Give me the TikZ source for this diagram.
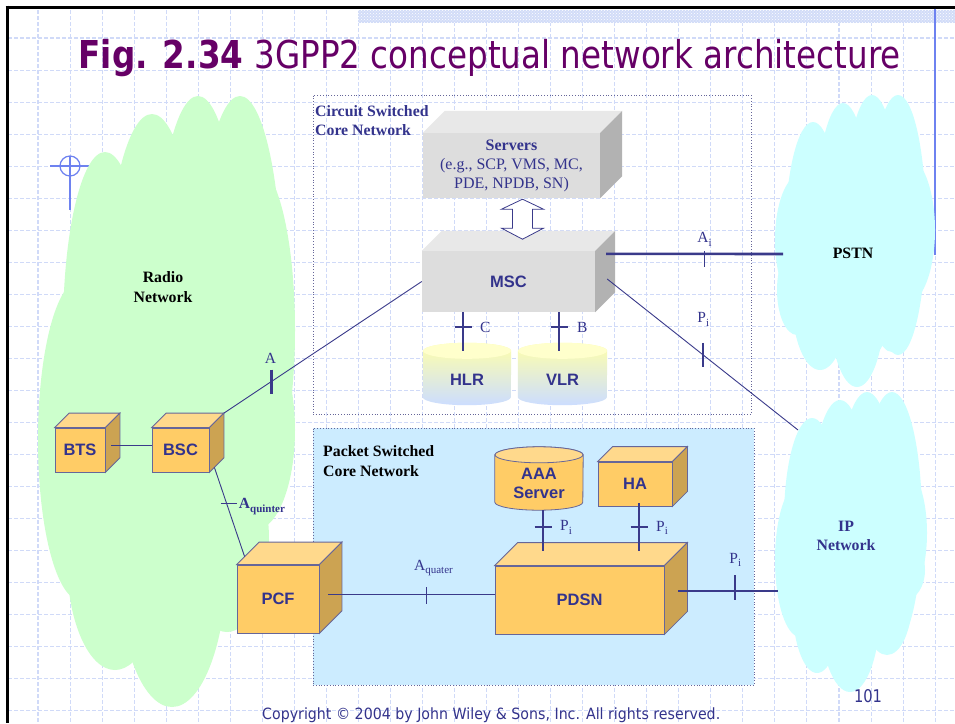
\documentclass[tikz,border=0pt]{standalone}
\usepackage{fontspec}
\usepackage{graphicx}
\setmainfont{Liberation Serif}
\newfontfamily\arialf{Liberation Sans}
\newfontfamily\tahf{DejaVu Sans}
\usetikzlibrary{calc,patterns}
\definecolor{navy}{RGB}{51,51,140}
\definecolor{linec}{RGB}{58,58,138}
\definecolor{gridc}{RGB}{208,218,248}
\definecolor{titlec}{RGB}{102,0,102}
\definecolor{greenc}{RGB}{204,255,204}
\definecolor{cyanc}{RGB}{204,255,255}
\definecolor{pktc}{RGB}{204,236,255}
\definecolor{ofront}{RGB}{255,204,102}
\definecolor{otop}{RGB}{255,217,140}
\definecolor{oside}{RGB}{204,163,82}
\definecolor{oedge}{RGB}{102,102,153}
\definecolor{gfront}{RGB}{221,221,221}
\definecolor{gtop}{RGB}{232,232,232}
\definecolor{gside}{RGB}{178,178,178}
\definecolor{cyltop}{RGB}{255,255,170}
\definecolor{cylbot}{RGB}{204,221,255}
\definecolor{cylface}{RGB}{255,255,204}
\definecolor{blueline}{RGB}{110,130,240}
\definecolor{stripc}{RGB}{210,220,248}
\definecolor{dotc}{RGB}{102,102,153}
\newcommand{\lowsub}[1]{\raisebox{-3.5pt}{\fontsize{11}{12}\selectfont #1}}
\newcommand{\cubesides}[5]{%
  \path[#5,fill=#3] (#1.north west) -- ++(#2,-#2) -- ($(#1.north east)+(#2,-#2)$) -- (#1.north east) -- cycle;
  \path[#5,fill=#4] (#1.north east) -- ++(#2,-#2) -- ($(#1.south east)+(#2,-#2)$) -- (#1.south east) -- cycle;}
\newcommand{\cylbody}[5]{%
  \path[#4] (#1.north west) -- ($(#1.south west)+(0,-#3)$) arc[start angle=180,end angle=0,x radius=#2,y radius=#3] -- (#1.north east) arc[start angle=0,end angle=-180,x radius=#2,y radius=#3] -- cycle;
  \path[#5] (#1.north) ellipse[x radius=#2,y radius=#3];}
\begin{document}
\begin{tikzpicture}[x=1pt,y=-1pt,
  gridline/.style={draw=gridc, line width=1.05pt, dash pattern=on 4pt off 2pt},
  obox/.style={rectangle, draw=oedge, line width=0.8pt, fill=ofront, inner sep=0pt, text=navy, font=\arialf\bfseries\fontsize{16.5}{19}\selectfont},
  gbox/.style={rectangle, fill=gfront, inner sep=0pt, text=navy},
  cylbox/.style={rectangle, inner sep=0pt},
  cyltext/.style={inner sep=0pt, text=navy, align=center, font=\arialf\bfseries\fontsize{16.5}{19}\selectfont},
  conn/.style={draw=linec, line width=0.9pt},
  thickconn/.style={draw=linec, line width=2.6pt},
  tickthin/.style={draw=linec, line width=1pt},
  tickthick/.style={draw=linec, line width=2.4pt},
  lbl/.style={inner sep=0pt, text=navy, font=\fontsize{15.5}{18}\selectfont},
  netlbl/.style={inner sep=0pt, align=center, font=\bfseries\fontsize{15.8}{19.5}\selectfont},
  corebox/.style={rectangle, draw=dotc, dotted, line width=0.8pt, inner sep=0pt}
]
\useasboundingbox (0,0) rectangle (955,723);
\fill[white] (0,0) rectangle (955,723);
% grid
\foreach \i in {0,...,28} {\draw[gridline] ({38+32.04*\i},10) -- ({38+32.04*\i},723);}
\foreach \j in {0,...,21} {\draw[gridline] (8,{38+32.04*\j}) -- (955,{38+32.04*\j});}
% top strip and frame
\fill[stripc] (358,10) rectangle (955,23);
\fill[pattern=crosshatch dots, pattern color=white] (358,10) rectangle (955,23);
\draw[black, line width=3pt] (5.5,7) -- (955,7);
\draw[black, line width=3pt] (7,5.5) -- (7,723);
\draw[blueline, line width=2pt] (935,8.5) -- (935,255);
% crosshair
\draw[blueline, line width=1.2pt] (70,166) circle[radius=10];
\draw[blueline, line width=1.2pt] (50,166) -- (123,166) (70,156) -- (70,210);
% radio network cloud
\begin{scope}[fill=greenc]
\fill (105,330) ellipse[x radius=42, y radius=178];
\fill (152,300) ellipse[x radius=45, y radius=186];
\fill (198,290) ellipse[x radius=42, y radius=194];
\fill (240,290) ellipse[x radius=42, y radius=194];
\fill (255,330) ellipse[x radius=40, y radius=165];
\fill (80,440) ellipse[x radius=42, y radius=160];
\fill (115,560) ellipse[x radius=48, y radius=110];
\fill (172,560) ellipse[x radius=55, y radius=147];
\fill (227,540) ellipse[x radius=42, y radius=92];
\fill (255,430) ellipse[x radius=40, y radius=100];
\fill (75,210) rectangle (260,600);
\end{scope}
% PSTN cloud
\begin{scope}[fill=cyanc]
\fill (813,240) ellipse[x radius=28, y radius=118];
\fill (843,230) ellipse[x radius=28, y radius=127];
\fill (872,225) ellipse[x radius=28, y radius=130];
\fill (898,225) ellipse[x radius=28, y radius=130];
\fill (905,230) ellipse[x radius=30, y radius=75];
\fill (800,240) ellipse[x radius=25, y radius=65];
\fill (797,290) ellipse[x radius=20, y radius=45];
\fill (820,300) ellipse[x radius=28, y radius=70];
\fill (857,300) ellipse[x radius=28, y radius=87];
\fill (892,290) ellipse[x radius=22, y radius=62];
\fill (905,250) ellipse[x radius=25, y radius=50];
\fill (795,180) rectangle (912,295);
\end{scope}
% IP cloud
\begin{scope}[fill=cyanc]
\fill (812,520) ellipse[x radius=28, y radius=102];
\fill (840,520) ellipse[x radius=30, y radius=120];
\fill (867,520) ellipse[x radius=30, y radius=128];
\fill (892,520) ellipse[x radius=30, y radius=128];
\fill (900,533) ellipse[x radius=27, y radius=70];
\fill (800,560) ellipse[x radius=25, y radius=77];
\fill (817,600) ellipse[x radius=25, y radius=73];
\fill (850,610) ellipse[x radius=30, y radius=82];
\fill (887,600) ellipse[x radius=25, y radius=55];
\fill (905,570) ellipse[x radius=20, y radius=30];
\fill (795,450) rectangle (915,595);
\end{scope}
% core network areas
\node[corebox, minimum width=438, minimum height=319] (csbox) at (532,254.5) {};
\node[corebox, fill=pktc, minimum width=441, minimum height=257] (psbox) at (533.5,556.5) {};
\node[anchor=north west, inner sep=0pt, align=left, text=navy, font=\bfseries\fontsize{15.8}{19}\selectfont] (cslbl) at (315,105) {Circuit Switched\\Core Network};
\node[anchor=north west, inner sep=0pt, align=left, font=\bfseries\fontsize{15.8}{20}\selectfont] (pslbl) at (323,445) {Packet Switched\\Core Network};
% network labels
\node[netlbl] (radio) at (163,287) {Radio\\Network};
\node[netlbl] (pstn) at (853,253) {PSTN};
\node[netlbl, text=navy] (ipnet) at (846,536) {IP\\Network};
% servers and MSC
\node[gbox, minimum width=177, minimum height=65, align=center, font=\fontsize{16}{19}\selectfont] (servers) at (511.5,165.5) {\textbf{Servers}\\(e.g., SCP, VMS, MC,\\PDE, NPDB, SN)};
\cubesides{servers}{22}{gtop}{gside}{draw=none}
\node[gbox, minimum width=173, minimum height=61, font=\arialf\bfseries\fontsize{16.5}{19}\selectfont] (msc) at (508.5,281.5) {MSC};
\cubesides{msc}{20}{gtop}{gside}{draw=none}
\coordinate (arrtop) at ($(servers.south)+(11,1)$);
\draw[linec, fill=white, line width=0.8pt] (arrtop) -- ++(21,10) -- ++(-11,0) -- ++(0,19) -- ++(11,0) -- ++(-21,11) -- ++(-21,-11) -- ++(11,0) -- ++(0,-19) -- ++(-11,0) -- cycle;
% HLR / VLR
\node[cylbox, minimum width=88, minimum height=54] (hlr) at (467,378) {};
\cylbody{hlr}{44}{8}{top color=cyltop, bottom color=cylbot}{fill=cylface}
\node[cyltext] (hlrt) at ($(hlr.center)+(0,2)$) {HLR};
\node[cylbox, minimum width=89, minimum height=54] (vlr) at (562.5,378) {};
\cylbody{vlr}{44.5}{8}{top color=cyltop, bottom color=cylbot}{fill=cylface}
\node[cyltext] (vlrt) at ($(vlr.center)+(0,2)$) {VLR};
% radio access boxes
\node[obox, minimum width=50, minimum height=44] (bts) at (80,450) {BTS};
\cubesides{bts}{14.5}{otop}{oside}{draw=oedge, line width=0.8pt}
\node[obox, minimum width=57, minimum height=44] (bsc) at (180.5,450) {BSC};
\cubesides{bsc}{14.5}{otop}{oside}{draw=oedge, line width=0.8pt}
\node[obox, minimum width=82, minimum height=68] (pcf) at (278,599) {PCF};
\cubesides{pcf}{22.5}{otop}{oside}{draw=oedge, line width=0.8pt}
% packet core boxes
\node[obox, minimum width=169, minimum height=68] (pdsn) at (579.5,600) {PDSN};
\cubesides{pdsn}{23}{otop}{oside}{draw=oedge, line width=0.8pt}
\node[obox, minimum width=74, minimum height=44] (ha) at (635,484) {HA};
\cubesides{ha}{15}{otop}{oside}{draw=oedge, line width=0.8pt}
\node[cylbox, minimum width=88, minimum height=55] (aaa) at (539,482.5) {};
\cylbody{aaa}{44}{8}{fill=ofront, draw=oedge, line width=0.8pt}{fill=otop, draw=oedge, line width=0.8pt}
\node[cyltext] (aaat) at ($(aaa.center)+(0,1)$) {AAA\\Server};
% connector end points
\coordinate (bsc-tr) at ($(bsc.north east)+(14.5,-14.5)$);
\coordinate (msc-r1) at ($(msc.north east)+(11,3)$);
\coordinate (pstn-in) at (783,254);
\coordinate (msc-r2) at ($(msc.east)+(12,-2.5)$);
\coordinate (ip-in) at (798,430);
\coordinate (ip-in2) at (778,591);
% MSC - BSC (A)
\draw[conn] (msc.west) -- coordinate[pos=0.76] (tA) (bsc-tr);
\draw[tickthick] ([yshift=12pt]tA) -- ([yshift=-12pt]tA);
\node[lbl, anchor=base] (lA) at ($(tA)+(-1,-18)$) {A};
% MSC - PSTN (Ai)
\draw[thickconn] (msc-r1) -- coordinate[pos=0.554] (tAi) (pstn-in);
\draw[tickthin] ([yshift=3pt]tAi) -- ([yshift=-13pt]tAi);
\node[lbl, anchor=base west] (lAi) at ($(tAi)+(-7,-11)$) {A\lowsub{i}};
% MSC - IP (Pi)
\draw[conn] (msc-r2) -- coordinate[pos=0.503] (tPi1) (ip-in);
\draw[tickthick] ([yshift=12pt]tPi1) -- ([yshift=-12pt]tPi1);
\node[lbl, anchor=base west] (lPi1) at ($(tPi1)+(-6,-32)$) {P\lowsub{i}};
% MSC - HLR (C), MSC - VLR (B)
\draw[thickconn] ([xshift=-4pt]hlr.north) -- coordinate[pos=0.615] (tC) ($(hlr.north |- msc.south)+(-4,0)$);
\draw[tickthick] ([xshift=-8.5pt]tC) -- ([xshift=8.5pt]tC);
\node[lbl, anchor=base west] (lC) at ($(tC)+(17,5)$) {C};
\draw[thickconn] ([xshift=-3.5pt]vlr.north) -- coordinate[pos=0.615] (tB) ($(vlr.north |- msc.south)+(-3.5,0)$);
\draw[tickthick] ([xshift=-8.5pt]tB) -- ([xshift=8.5pt]tB);
\node[lbl, anchor=base west] (lB) at ($(tB)+(18,5)$) {B};
% BTS - BSC
\draw[conn] ($(bts.east)+(6,-5)$) -- ($(bsc.west)+(0,-5)$);
% BSC - PCF (Aquinter)
\draw[conn] ($(bsc.south east)+(5,-5)$) -- coordinate[pos=0.41] (tAq) ($(pcf.north west)+(8,-8)$);
\draw[tickthin] ([xshift=-6pt]tAq) -- ([xshift=10pt]tAq);
\node[lbl, anchor=base west] (lAq) at ($(tAq)+(12,5)$) {\textbf{A\lowsub{quinter}}};
% PCF - PDSN (Aquater)
\draw[conn] ($(pcf.east)+(9,-5)$) -- coordinate[pos=0.593] (tAqt) ($(pdsn.west)+(0,-6)$);
\draw[tickthin] ([yshift=7pt]tAqt) -- ([yshift=-10pt]tAqt);
\node[lbl, anchor=base west] (lAqt) at ($(tAqt)+(-13,-24)$) {A\lowsub{quater}};
% AAA - PDSN, HA - PDSN (Pi)
\draw[thickconn] ($(aaa.south)+(4,0)$) -- coordinate[pos=0.415] (tP2) ($(aaa.south |- pdsn.north)+(4,-15)$);
\draw[tickthick] ([xshift=-8.5pt]tP2) -- ([xshift=8.5pt]tP2);
\node[lbl, anchor=base west] (lP2) at ($(tP2)+(17,4)$) {P\lowsub{i}};
\draw[thickconn] ($(ha.south)+(4,-3)$) -- coordinate[pos=0.5] (tP3) ($(ha.south |- pdsn.north)+(4,-15)$);
\draw[tickthick] ([xshift=-8.5pt]tP3) -- ([xshift=8.5pt]tP3);
\node[lbl, anchor=base west] (lP3) at ($(tP3)+(17,4)$) {P\lowsub{i}};
% PDSN - IP (Pi)
\draw[thickconn] ($(pdsn.east)+(14,-9)$) -- coordinate[pos=0.57] (tP4) (ip-in2);
\draw[tickthick] ([yshift=16pt]tP4) -- ([yshift=-9pt]tP4);
\node[lbl, anchor=base west] (lP4) at ($(tP4)+(-6,-28)$) {P\lowsub{i}};
% title and footer
\node[anchor=base west, inner sep=0pt, text=titlec] (title) at (78.5,68) {\resizebox{822pt}{\height}{\tahf\fontsize{38.4}{46}\selectfont\bfseries Fig. 2.34 \mdseries 3GPP2 conceptual network architecture}};
\node[anchor=base, inner sep=0pt, text=navy] (pgnum) at (868,702) {\resizebox{28pt}{\height}{\tahf\fontsize{17.5}{20}\selectfont 101}};
\node[anchor=base west, inner sep=0pt, text=navy] (copy) at (262,719) {\resizebox{458pt}{\height}{\tahf\fontsize{15.5}{18}\selectfont Copyright © 2004 by John Wiley \& Sons, Inc. All rights reserved.}};
\end{tikzpicture}
\end{document}
